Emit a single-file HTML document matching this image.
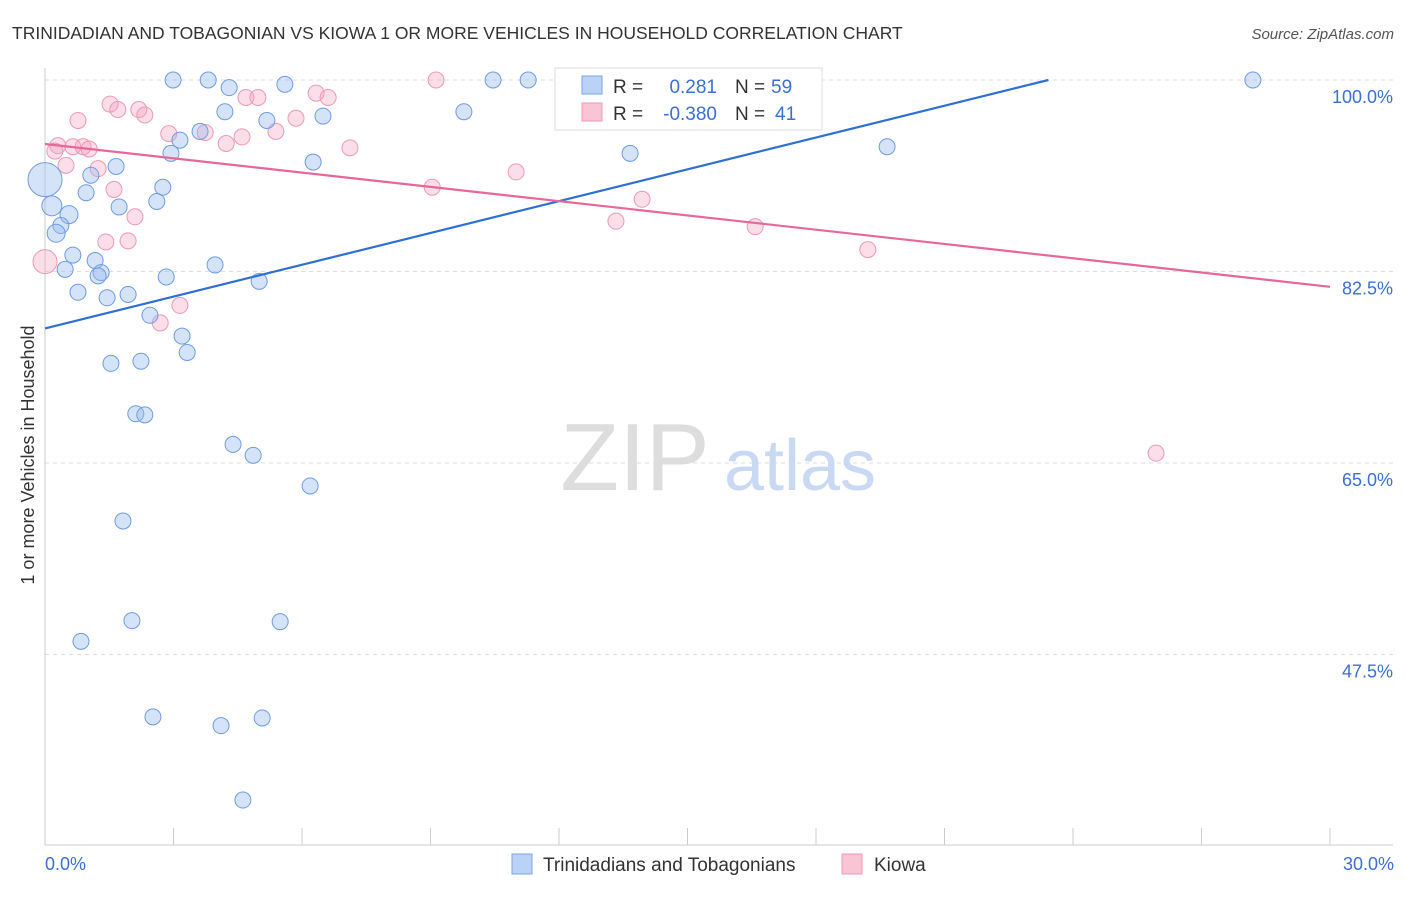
<!DOCTYPE html>
<html><head><meta charset="utf-8"><style>
body{margin:0;background:#fff;font-family:"Liberation Sans",sans-serif}
svg text{font-family:"Liberation Sans",sans-serif}
</style></head><body>
<svg id="chart" width="1406" height="892" viewBox="0 0 1406 892">
<text x="12" y="39" font-size="17.5" fill="#333">TRINIDADIAN AND TOBAGONIAN VS KIOWA 1 OR MORE VEHICLES IN HOUSEHOLD CORRELATION CHART</text>
<text x="1394" y="39" font-size="15" fill="#555" font-style="italic" text-anchor="end">Source: ZipAtlas.com</text>
<g id="grid"></g>
<g>
<text x="635" y="490" font-size="96" fill="#ddd" font-family="Liberation Serif,serif" text-anchor="middle">ZIP</text>
<text x="800" y="490" font-size="72" fill="#c9d9f3" text-anchor="middle">atlas</text>
</g>
<line x1="45" y1="68" x2="45" y2="845" stroke="#ccc"/>
<line x1="45" y1="845" x2="1393" y2="845" stroke="#ccc"/>
<g id="xticks"></g>
<g id="ylabels"></g>
<text x="45" y="870" font-size="18" fill="#3b6fd6">0.0%</text>
<text x="1394" y="870" font-size="18" fill="#3b6fd6" text-anchor="end">30.0%</text>
<text transform="translate(34,455) rotate(-90)" font-size="18" fill="#333" text-anchor="middle">1 or more Vehicles in Household</text>
<g id="pinkpts"></g>
<g id="bluepts"></g>
<g id="lines"></g>
<g>
<rect x="555" y="68" width="267" height="62" fill="#fff" stroke="#ddd"/>
<rect x="582" y="76" width="20" height="18" fill="#b9d2f5" stroke="#7aa5e6"/>
<rect x="582" y="103" width="20" height="18" fill="#f9c4d4" stroke="#ee99b4"/>
<text x="613" y="93" font-size="19" fill="#333">R =</text>
<text x="717" y="93" font-size="19" fill="#3b6fd6" text-anchor="end">0.281</text>
<text x="735" y="93" font-size="19" fill="#333">N =</text>
<text x="771" y="93" font-size="19" fill="#3b6fd6">59</text>
<text x="613" y="120" font-size="19" fill="#333">R =</text>
<text x="717" y="120" font-size="19" fill="#3b6fd6" text-anchor="end">-0.380</text>
<text x="735" y="120" font-size="19" fill="#333">N =</text>
<text x="775" y="120" font-size="19" fill="#3b6fd6">41</text>
</g>
<g>
<rect x="512" y="854" width="20" height="20" fill="#b9d2f5" stroke="#7aa5e6"/>
<text x="543" y="871" font-size="19" fill="#333">Trinidadians and Tobagonians</text>
<rect x="842" y="854" width="20" height="20" fill="#f9c4d4" stroke="#ee99b4"/>
<text x="874" y="871" font-size="19" fill="#333">Kiowa</text>
</g>
</svg>
<script>
const yTicks=[100,82.5,65,47.5];
const yTickLabels=["100.0%","82.5%","65.0%","47.5%"];
const xTicks=[3,6,9,12,15,18,21,24,27,30];
const blueX=[2.99,3.81,10.46,11.28,28.2,4.3,5.6,12.56,4.2,9.78,6.49,5.18,3.62,3.15,2.94,13.66,19.66,6.26,1.66,1.07,0.0,2.75,0.96,2.61,0.16,1.73,0.56,0.37,0.26,0.65,1.17,0.47,1.31,1.24,2.83,3.97,5.0,0.77,1.45,1.94,2.45,3.2,3.32,1.54,2.24,2.12,2.33,4.39,4.86,6.19,1.82,2.03,5.49,0.84,2.52,4.11,5.07,4.62];
const blueY=[100,100,100,100,100,99.3,99.6,99.5,97.1,97.1,96.7,96.3,95.3,94.5,93.3,93.3,93.9,92.5,92.1,91.3,90.9,90.2,89.7,88.9,88.5,88.4,87.7,86.7,86.0,84.0,83.5,82.7,82.4,82.1,82.0,83.1,81.6,80.6,80.1,80.4,78.5,76.6,75.1,74.1,74.3,69.5,69.4,66.7,65.7,62.9,59.7,50.6,50.5,48.7,41.8,41.0,41.7,34.2];
const blueR=[8,8,8,8,8,8,8,8,8,8,8,8,8,8,8,8,8,8,8,8,17,8,8,8,10,8,9,8,9,8,8,8,8,8,8,8,8,8,8,8,8,8,8,8,8,8,8,8,8,8,8,8,8,8,8,8,8,8];
const pinkX=[9.13,16.2,6.33,6.61,4.69,4.97,1.52,1.7,2.19,2.33,0.77,2.89,3.74,5.39,5.86,4.6,4.23,7.12,0.3,0.23,0.65,0.89,1.03,0.49,1.24,1.61,9.04,11.0,13.94,2.1,1.42,1.94,13.33,16.58,19.21,0.0,3.15,2.69,25.94];
const pinkY=[100,100,98.8,98.4,98.4,98.4,97.8,97.3,97.3,96.8,96.3,95.1,95.2,95.3,96.5,94.8,94.2,93.8,94.0,93.5,93.9,93.9,93.7,92.2,91.9,90.0,90.2,91.6,89.1,87.5,85.2,85.3,87.1,86.6,84.5,83.4,79.4,77.8,65.9];
const trendIntercept=[77.3,94.15];
const trendSlope=[0.969,-0.435];
const X=v=>45+v/30*1285, Y=v=>80+(100-v)*10.943;
const ns="http://www.w3.org/2000/svg";
function mk(t,a,p){const e=document.createElementNS(ns,t);for(const k in a)e.setAttribute(k,a[k]);p.appendChild(e);return e;}
const grid=document.getElementById('grid'),yl=document.getElementById('ylabels');
yTicks.forEach((v,i)=>{
 const l=mk('line',{x1:45,x2:1393,y1:Y(v),y2:Y(v),stroke:'#ddd','stroke-dasharray':'4,4'},grid);
 
 
 const t=mk('text',{x:1393,y:Y(v)+23,'font-size':18,fill:'#3b6fd6','text-anchor':'end'},yl);
 t.textContent=yTickLabels[i];
 
 
});
const xt=document.getElementById('xticks');
xTicks.forEach(v=>{
 const l=mk('line',{x1:X(v),x2:X(v),y1:828,y2:845,stroke:'#ccc'},xt);
 
 
});
const pp=document.getElementById('pinkpts');
pinkX.forEach((x,i)=>{
 const c=mk('circle',{cx:X(x),cy:Y(pinkY[i]),r:(i==35?12:8),fill:'rgba(244,160,188,0.35)',stroke:'#ee99b4','stroke-width':1},pp);
 
 
});
const bp=document.getElementById('bluepts');
blueX.forEach((x,i)=>{
 const c=mk('circle',{cx:X(x),cy:Y(blueY[i]),r:blueR[i],fill:'rgba(150,185,240,0.4)',stroke:'#6e9ce3','stroke-width':1},bp);
 
 
});
const lg=document.getElementById('lines');
const cols=['#2d6fd4','#e8679a'];
[0,1].forEach(i=>{
 let x2=30,y2=trendIntercept[i]+trendSlope[i]*30;
 if(y2>100){x2=(100-trendIntercept[i])/trendSlope[i];y2=100;}
 const l=mk('line',{x1:X(0),y1:Y(trendIntercept[i]),x2:X(x2),y2:Y(y2),stroke:cols[i],'stroke-width':2.2},lg);
 
 
});
</script>
</body></html>
